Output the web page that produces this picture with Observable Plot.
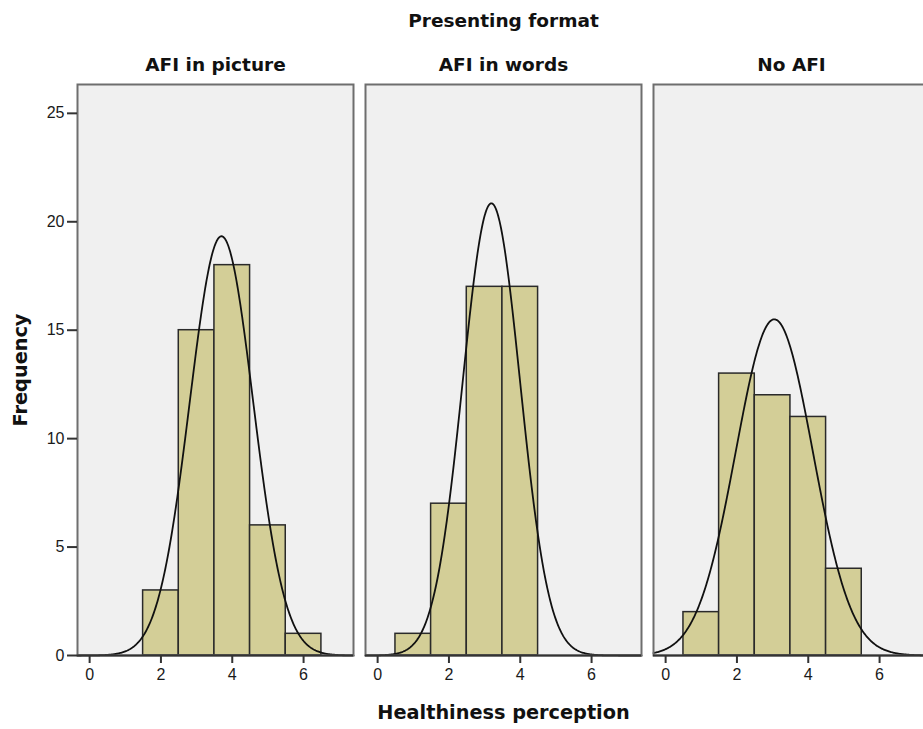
<!DOCTYPE html>
<html>
<head>
<meta charset="utf-8">
<script src="https://cdn.jsdelivr.net/npm/d3@7"></script>
<script src="https://cdn.jsdelivr.net/npm/@observablehq/plot@0.6"></script>
<style>
  html, body { margin: 0; padding: 0; overflow: hidden; background: white; }
  #chart { width: 923px; height: 729px; overflow: hidden; }
  #chart svg { display: block; max-width: none !important; width: 935px !important; height: 729px !important; }
  #chart svg g[aria-label$="tick label"],
  #chart svg g[aria-label$="tick label"] text { font-size: 16px !important; fill: #1a1a1a; }
</style>
</head>
<body>
<div id="chart"></div>
<script>
// ---- Data ----
const formats = ["AFI in picture", "AFI in words", "No AFI"];
const pictureBins = [2, 3, 4, 5, 6];
const pictureCounts = [3, 15, 18, 6, 1];
const wordsBins = [1, 2, 3, 4];
const wordsCounts = [1, 7, 17, 17];
const noAfiBins = [1, 2, 3, 4, 5];
const noAfiCounts = [2, 13, 12, 11, 4];
const xTicks = [0, 2, 4, 6];
const yTicks = [0, 5, 10, 15, 20, 25];
const titleText = "Presenting format";
const xLabel = "Healthiness perception";
const yLabel = "Frequency";

// ---- Build tables ----
const groups = [
  {format: formats[0], bins: pictureBins, counts: pictureCounts},
  {format: formats[1], bins: wordsBins, counts: wordsCounts},
  {format: formats[2], bins: noAfiBins, counts: noAfiCounts}
];
const bars = groups.flatMap(g => g.bins.map((b, i) => ({format: g.format, x: b, count: g.counts[i]})));

const xDomain = [-0.34, 7.4];
const yDomain = [0, 26.33];

// fitted normal curve (SPSS "display normal curve"), from each group's binned values
const curve = groups.flatMap(g => {
  const n = d3.sum(g.counts);
  const mean = d3.sum(g.bins, (b, i) => b * g.counts[i]) / n;
  const sd = Math.sqrt(d3.sum(g.bins, (b, i) => g.counts[i] * (b - mean) ** 2) / (n - 1));
  const xs = d3.range(xDomain[0], xDomain[1] + 0.001, 0.02);
  return xs.map(x => ({
    format: g.format,
    x,
    y: n / (sd * Math.sqrt(2 * Math.PI)) * Math.exp(-0.5 * ((x - mean) / sd) ** 2)
  }));
});

const boldFont = "DejaVu Sans, sans-serif";
const chart = Plot.plot({
  width: 935,
  height: 729,
  marginLeft: 77,
  marginRight: 6,
  marginTop: 84,
  marginBottom: 74,
  style: {fontFamily: "Liberation Sans, Arial, sans-serif", fontSize: "16px", color: "#1a1a1a", background: "white"},
  fx: {domain: formats, paddingInner: 12 / 288, paddingOuter: 0, axis: null, label: null},
  x: {domain: xDomain, label: null},
  y: {domain: yDomain, label: null},
  marks: [
    Plot.frame({fill: "#f0f0f0", stroke: null}),
    Plot.rect(bars, {
      fx: "format",
      x1: d => d.x - 0.5,
      x2: d => d.x + 0.5,
      y1: 0,
      y2: "count",
      fill: "#d3ce97",
      stroke: "#2a2a2a",
      strokeWidth: 1.5
    }),
    Plot.line(curve, {fx: "format", x: "x", y: "y", stroke: "#111", strokeWidth: 1.8}),
    Plot.frame({stroke: "#6e6e6e", strokeWidth: 2}),
    Plot.ruleY([0], {stroke: "#333", strokeWidth: 2}),
    Plot.axisX({ticks: xTicks, tickSize: 8, tickPadding: 5, strokeWidth: 2, stroke: "#333", fontSize: 16, label: null}),
    Plot.axisY({ticks: yTicks, tickSize: 10, tickPadding: 3, strokeWidth: 2, stroke: "#333", fontSize: 16, label: null}),
    Plot.text(formats, {
      fx: d => d, text: d => d, frameAnchor: "top", dy: -27,
      fontWeight: "bold", fontSize: 18.5, fontFamily: boldFont, fill: "#111"
    }),
    Plot.text([titleText], {
      fx: [formats[1]], text: d => d, frameAnchor: "top", dy: -71,
      fontWeight: "bold", fontSize: 18.5, fontFamily: boldFont, fill: "#111"
    }),
    Plot.text([xLabel], {
      fx: [formats[1]], text: d => d, frameAnchor: "bottom", dy: 63,
      fontWeight: "bold", fontSize: 19.3, fontFamily: boldFont, fill: "#111"
    }),
    Plot.text([yLabel], {
      fx: [formats[0]], text: d => d, frameAnchor: "left", textAnchor: "middle", dx: -57, rotate: -90,
      fontWeight: "bold", fontSize: 19.3, fontFamily: boldFont, fill: "#111"
    })
  ]
});
document.getElementById("chart").appendChild(chart);
</script>
</body>
</html>
